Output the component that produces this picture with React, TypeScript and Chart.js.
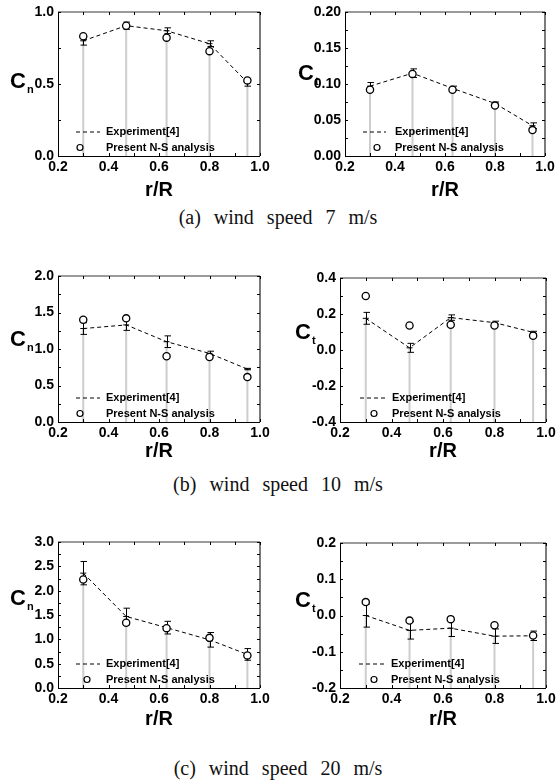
import React, { useEffect, useRef } from "react";
import { Chart, registerables } from "chart.js";

Chart.register(...registerables);

// ---------- data ----------
const R_POS = [0.3, 0.47, 0.63, 0.8, 0.95];
const X_TICKS = [0.2, 0.4, 0.6, 0.8, 1.0];
const LEGEND_LABELS = ["Experiment[4]", "Present N-S analysis"];
const X_TITLE = "r/R";

// (a) 7 m/s
const CN7_EXP = [0.8, 0.905, 0.87, 0.78, 0.51];
const CN7_ERR = [0.03, 0.025, 0.02, 0.02, 0.025];
const CN7_NS = [0.832, 0.905, 0.822, 0.728, 0.525];
const CN7_TICKS = [0.0, 0.5, 1.0];

const CT7_EXP = [0.097, 0.115, 0.094, 0.073, 0.042];
const CT7_ERR = [0.005, 0.006, 0.003, 0.002, 0.004];
const CT7_NS = [0.092, 0.114, 0.092, 0.07, 0.036];
const CT7_TICKS = [0.0, 0.05, 0.1, 0.15, 0.2];

// (b) 10 m/s
const CN10_EXP = [1.28, 1.33, 1.1, 0.94, 0.725];
const CN10_ERR = [0.08, 0.075, 0.08, 0.03, 0.01];
const CN10_NS = [1.4, 1.42, 0.9, 0.89, 0.615];
const CN10_TICKS = [0.0, 0.5, 1.0, 1.5, 2.0];

const CT10_EXP = [0.176, 0.012, 0.18, 0.152, 0.098];
const CT10_ERR = [0.033, 0.025, 0.015, 0.008, 0.006];
const CT10_NS = [0.3, 0.136, 0.14, 0.136, 0.079];
const CT10_TICKS = [-0.4, -0.2, 0.0, 0.2, 0.4];

// (c) 20 m/s
const CN20_EXP = [2.36, 1.47, 1.24, 0.99, 0.69];
const CN20_ERR = [0.24, 0.17, 0.13, 0.15, 0.12];
const CN20_NS = [2.23, 1.34, 1.23, 1.03, 0.67];
const CN20_TICKS = [0.0, 0.5, 1.0, 1.5, 2.0, 2.5, 3.0];

const CT20_EXP = [0.0, -0.041, -0.035, -0.057, -0.056];
const CT20_ERR = [0.032, 0.024, 0.023, 0.02, 0.013];
const CT20_NS = [0.037, -0.014, -0.01, -0.027, -0.055];
const CT20_TICKS = [-0.2, -0.1, 0.0, 0.1, 0.2];

const CAPTIONS = ["(a) wind speed 7 m/s", "(b) wind speed 10 m/s", "(c) wind speed 20 m/s"];

// ---------- layout / style ----------
const FONT = '"Liberation Sans", Arial, Helvetica, sans-serif';

type Box = {
  left: number; top: number; width: number; height: number;
  padTop: number; padRight: number; yW: number; xH: number;
  cX: number; cY: number; tY: number; legCircle: number; legLine: [number, number]; legText: number;
};
type Data = { exp: number[]; err: number[]; ns: number[]; ticks: number[]; dec: number; sub: string };

const PANELS: { data: Data; box: Box }[] = [
  {
    data: { exp: CN7_EXP, err: CN7_ERR, ns: CN7_NS, ticks: CN7_TICKS, dec: 1, sub: "n" },
    box: { left: 0, top: 0, width: 280, height: 205, padTop: 12, padRight: 20, yW: 58, xH: 49, cX: 10, cY: 88, tY: 190, legCircle: 22, legLine: [18, 42], legText: 48 },
  },
  {
    data: { exp: CT7_EXP, err: CT7_ERR, ns: CT7_NS, ticks: CT7_TICKS, dec: 2, sub: "t" },
    box: { left: 280, top: 0, width: 280, height: 205, padTop: 12, padRight: 15, yW: 65, xH: 49, cX: 298, cY: 80, tY: 190, legCircle: 32, legLine: [18, 41], legText: 50 },
  },
  {
    data: { exp: CN10_EXP, err: CN10_ERR, ns: CN10_NS, ticks: CN10_TICKS, dec: 1, sub: "n" },
    box: { left: 0, top: 255, width: 280, height: 211, padTop: 21, padRight: 20, yW: 58, xH: 44, cX: 10, cY: 346, tY: 451, legCircle: 22, legLine: [18, 42], legText: 48 },
  },
  {
    data: { exp: CT10_EXP, err: CT10_ERR, ns: CT10_NS, ticks: CT10_TICKS, dec: 1, sub: "t" },
    box: { left: 280, top: 255, width: 280, height: 211, padTop: 23, padRight: 14, yW: 60, xH: 44, cX: 295, cY: 339, tY: 451, legCircle: 34, legLine: [20, 46], legText: 52 },
  },
  {
    data: { exp: CN20_EXP, err: CN20_ERR, ns: CN20_NS, ticks: CN20_TICKS, dec: 1, sub: "n" },
    box: { left: 0, top: 520, width: 280, height: 214, padTop: 22, padRight: 20, yW: 58, xH: 46, cX: 10, cY: 605, tY: 719, legCircle: 29, legLine: [18, 42], legText: 48 },
  },
  {
    data: { exp: CT20_EXP, err: CT20_ERR, ns: CT20_NS, ticks: CT20_TICKS, dec: 1, sub: "t" },
    box: { left: 280, top: 520, width: 280, height: 214, padTop: 23, padRight: 14, yW: 60, xH: 46, cX: 295, cY: 607, tY: 719, legCircle: 34, legLine: [19, 46], legText: 51 },
  },
];

const CAPTION_Y = [207, 474, 758];

function fmt(v: number, dec: number) {
  const n = Math.abs(v) < 1e-9 ? 0 : v;
  return n.toFixed(dec);
}

function midpoints(arr: number[]) {
  const out: number[] = [];
  for (let i = 0; i < arr.length - 1; i++) out.push((arr[i] + arr[i + 1]) / 2);
  return out;
}

function makeDecor(d: Data, b: Box) {
  return {
    id: "decor",
    afterDatasetDraw(chart: any, args: any) {
      if (args.index !== 1) return;
      const ctx = chart.ctx;
      const xs = chart.scales.x;
      const ys = chart.scales.y;
      ctx.save();
      ctx.strokeStyle = "#000";
      ctx.lineWidth = 1;
      ctx.setLineDash([]);
      R_POS.forEach((r, i) => {
        const x = Math.round(xs.getPixelForValue(r)) + 0.5;
        const yt = ys.getPixelForValue(d.exp[i] + d.err[i]);
        const yb = ys.getPixelForValue(d.exp[i] - d.err[i]);
        ctx.beginPath();
        ctx.moveTo(x, yt);
        ctx.lineTo(x, yb);
        ctx.moveTo(x - 3, yt);
        ctx.lineTo(x + 3.5, yt);
        ctx.moveTo(x - 3, yb);
        ctx.lineTo(x + 3.5, yb);
        ctx.stroke();
      });
      ctx.restore();
    },
    afterDraw(chart: any) {
      const ctx = chart.ctx;
      const { left, right, top, bottom } = chart.chartArea;
      const xs = chart.scales.x;
      const ys = chart.scales.y;
      ctx.save();
      ctx.setLineDash([]);
      // frame
      ctx.lineWidth = 1.5;
      ctx.strokeStyle = "#7a7a7a";
      ctx.beginPath();
      ctx.moveTo(left, top);
      ctx.lineTo(right, top);
      ctx.stroke();
      ctx.strokeStyle = "#222";
      ctx.lineWidth = 1.2;
      ctx.beginPath();
      ctx.moveTo(right, top);
      ctx.lineTo(right, bottom);
      ctx.stroke();
      ctx.strokeStyle = "#000";
      ctx.lineWidth = 1;
      ctx.beginPath();
      ctx.moveTo(left + 0.5, top);
      ctx.lineTo(left + 0.5, bottom + 0.5);
      ctx.lineTo(right, bottom + 0.5);
      ctx.stroke();
      // inward ticks
      const tl = 3;
      ctx.strokeStyle = "#000";
      ctx.lineWidth = 1;
      const xVals = [...X_TICKS, ...midpoints(X_TICKS)];
      xVals.forEach((v) => {
        const x = Math.round(xs.getPixelForValue(v)) + 0.5;
        ctx.beginPath();
        ctx.moveTo(x, bottom);
        ctx.lineTo(x, bottom - tl);
        ctx.moveTo(x, top);
        ctx.lineTo(x, top + tl);
        ctx.stroke();
      });
      const yVals = [...d.ticks, ...midpoints(d.ticks)];
      yVals.forEach((v) => {
        const y = Math.round(ys.getPixelForValue(v)) + 0.5;
        ctx.beginPath();
        ctx.moveTo(left, y);
        ctx.lineTo(left + tl, y);
        ctx.moveTo(right, y);
        ctx.lineTo(right - tl, y);
        ctx.stroke();
      });
      // legend
      const y1 = bottom - 24;
      const y2 = bottom - 8.5;
      ctx.strokeStyle = "#000";
      ctx.lineWidth = 1;
      ctx.setLineDash([4, 3]);
      ctx.beginPath();
      ctx.moveTo(left + b.legLine[0], y1);
      ctx.lineTo(left + b.legLine[1], y1);
      ctx.stroke();
      ctx.setLineDash([]);
      ctx.beginPath();
      ctx.arc(left + b.legCircle, y2, 3, 0, Math.PI * 2);
      ctx.fillStyle = "#fff";
      ctx.fill();
      ctx.lineWidth = 1.2;
      ctx.stroke();
      ctx.fillStyle = "#000";
      ctx.font = `bold 11px ${FONT}`;
      ctx.textBaseline = "middle";
      ctx.textAlign = "left";
      ctx.fillText(LEGEND_LABELS[0], left + b.legText, y1);
      ctx.fillText(LEGEND_LABELS[1], left + b.legText, y2);
      // x title
      ctx.textAlign = "center";
      ctx.font = `bold 20px ${FONT}`;
      ctx.fillText(X_TITLE, (left + right) / 2, b.tY - b.top);
      // y label C_n / C_t
      ctx.textAlign = "left";
      ctx.textBaseline = "alphabetic";
      ctx.font = `bold 22px ${FONT}`;
      const cx = b.cX - b.left;
      const cy = b.cY - b.top;
      ctx.fillText("C", cx, cy);
      ctx.font = `bold 11px ${FONT}`;
      ctx.fillText(d.sub, cx + 17, cy + 5);
      ctx.restore();
    },
  };
}

function PanelChart({ data, box }: { data: Data; box: Box }) {
  const ref = useRef<HTMLCanvasElement>(null);
  useEffect(() => {
    const canvas = ref.current!;
    const yMin = data.ticks[0];
    const yMax = data.ticks[data.ticks.length - 1];
    const chart = new Chart(canvas, {
      type: "scatter",
      data: {
        datasets: [
          {
            type: "bar",
            data: R_POS.map((x, i) => ({ x, y: [yMin, data.exp[i]] })),
            backgroundColor: "#cdcdcd",
            borderWidth: 0,
            barThickness: 2,
            maxBarThickness: 2,
            inflateAmount: 0,
            order: 3,
          } as any,
          {
            type: "line",
            data: R_POS.map((x, i) => ({ x, y: data.exp[i] })),
            borderColor: "#000",
            borderWidth: 1,
            borderDash: [4, 3],
            pointStyle: "line",
            pointRadius: 3,
            pointBorderColor: "#000",
            pointBorderWidth: 1,
            fill: false,
            tension: 0,
            order: 2,
          } as any,
          {
            type: "scatter",
            data: R_POS.map((x, i) => ({ x, y: data.ns[i] })),
            pointStyle: "circle",
            pointRadius: 3.6,
            pointBackgroundColor: "#fff",
            pointBorderColor: "#000",
            pointBorderWidth: 1.3,
            order: 1,
          } as any,
        ],
      },
      options: {
        responsive: false,
        animation: false,
        events: [],
        layout: { padding: { top: box.padTop, right: box.padRight, left: 0, bottom: 0 } },
        plugins: { legend: { display: false }, tooltip: { enabled: false }, title: { display: false } },
        scales: {
          x: {
            type: "linear",
            min: 0.2,
            max: 1.0,
            offset: false,
            grid: { display: false, drawTicks: false, offset: false },
            border: { display: false },
            afterBuildTicks: (s: any) => {
              s.ticks = X_TICKS.map((v) => ({ value: v }));
            },
            afterFit: (s: any) => {
              s.height = box.xH;
              s.paddingLeft = 0;
              s.paddingRight = 0;
            },
            ticks: {
              color: "#000",
              font: { family: FONT, size: 14, weight: "bold" },
              padding: 3,
              maxRotation: 0,
              autoSkip: false,
              callback: (v: any) => fmt(Number(v), 1),
            },
            title: { display: false },
          },
          y: {
            type: "linear",
            min: yMin,
            max: yMax,
            grid: { display: false, drawTicks: false },
            border: { display: false },
            afterBuildTicks: (s: any) => {
              s.ticks = data.ticks.map((v) => ({ value: v }));
            },
            afterFit: (s: any) => {
              s.width = box.yW;
              s.paddingTop = 0;
              s.paddingBottom = 0;
            },
            ticks: {
              color: "#000",
              font: { family: FONT, size: 14, weight: "bold" },
              padding: 4,
              autoSkip: false,
              callback: (v: any) => fmt(Number(v), data.dec),
            },
          },
        },
      } as any,
      plugins: [makeDecor(data, box) as any],
    });
    return () => chart.destroy();
  }, [data, box]);
  return (
    <canvas
      ref={ref}
      width={box.width}
      height={box.height}
      style={{ position: "absolute", left: box.left, top: box.top, width: box.width, height: box.height }}
    />
  );
}

export default function App() {
  return (
    <div style={{ position: "absolute", left: 0, top: 0, width: 560, height: 782, background: "#fff", overflow: "hidden" }}>
      {PANELS.map((p, i) => (
        <PanelChart key={i} data={p.data} box={p.box} />
      ))}
      {CAPTIONS.map((c, i) => (
        <div
          key={c}
          style={{
            position: "absolute",
            left: 0,
            width: 556,
            top: CAPTION_Y[i],
            height: 20,
            lineHeight: "20px",
            textAlign: "center",
            fontFamily: '"Liberation Serif", "Times New Roman", serif',
            fontSize: 20,
            wordSpacing: 8,
            color: "#111",
          }}
        >
          {c}
        </div>
      ))}
    </div>
  );
}
